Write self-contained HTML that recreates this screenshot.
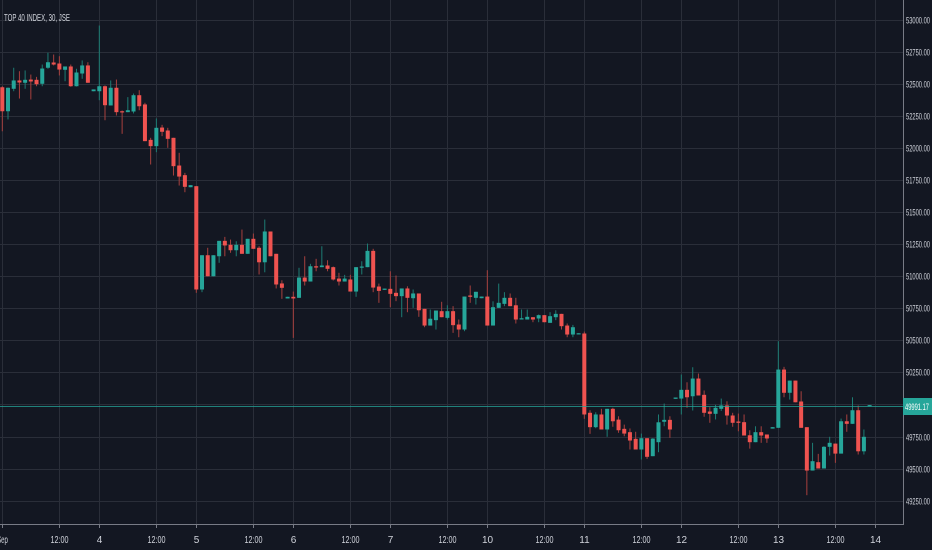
<!DOCTYPE html>
<html><head><meta charset="utf-8"><style>
html,body{margin:0;padding:0;background:#131722;}
svg{display:block;font-family:"Liberation Sans",sans-serif;}
</style></head><body>
<svg id="chart" width="932" height="550" viewBox="0 0 932 550" xmlns="http://www.w3.org/2000/svg">
<rect x="0" y="0" width="932" height="550" fill="#131722"/>
<g id="grid"></g>
<g id="candles"></g>
<line id="lastLine" x1="0" x2="903" stroke="#26a69a" stroke-opacity="0.75" stroke-width="1"/>
<line x1="903.5" y1="0" x2="903.5" y2="524" stroke="#787b86" stroke-width="1"/>
<line x1="0" y1="524.5" x2="904" y2="524.5" stroke="#787b86" stroke-width="1"/>
<g id="yaxis"></g>
<g id="xaxis"></g>
<text x="4" y="21" fill="#d1d4dc" font-size="10" textLength="66" lengthAdjust="spacingAndGlyphs">TOP 40 INDEX, 30, JSE</text>
<g id="lastLabel"></g>
</svg>
<script>
const opens=[52472,52285,52460,52525,52507,52532,52530,52499,52624,52665,52657,52608,52634,52480,52579,52642,52441,52441,52480,52330,52468,52285,52278,52283,52410,52338,52062,52013,52158,52135,52078,51862,51787,51693,51701,50896,51163,50999,51155,51275,51244,51202,51244,51174,51291,51221,51108,51348,51174,50943,50826,50839,50831,50989,50958,51077,51070,51083,51070,50981,50958,50974,50880,51067,51070,51197,50919,50893,50901,50870,50844,50904,50828,50865,50745,50615,50657,50727,50675,50727,50623,50584,50849,50831,50828,50841,50615,50753,50784,50831,50773,50662,50662,50680,50670,50696,50636,50680,50706,50615,50545,50547,50553,49935,49823,49922,49805,49966,49882,49810,49784,49732,49649,49737,49597,49706,49865,49880,50044,50046,50114,50064,50202,50075,49945,49927,49966,49992,49914,49867,49862,49760,49706,49784,49766,49812,49818,50272,50091,50186,50023,49823,49485,49550,49501,49670,49695,49617,49869,49849,49955,49635,49992];
const highs=[52480,52470,52624,52597,52603,52571,52553,52649,52741,52727,52714,52634,52649,52616,52681,52667,52455,52953,52486,52525,52532,52291,52395,52423,52449,52351,52078,52229,52179,52156,52078,51961,51805,51709,51701,51163,51221,51163,51275,51306,51285,51272,51363,51291,51332,51233,51441,51348,51174,50968,50839,50880,51065,51155,51096,51135,51233,51124,51075,51026,51010,51010,51070,51116,51254,51213,50942,50903,51038,51005,50904,50921,50896,50865,50745,50740,50732,50800,50773,50766,50662,50841,50927,50878,50841,51046,50804,50942,50875,50865,50831,50740,50740,50680,50701,50696,50719,50734,50706,50631,50620,50555,50568,49955,49939,49966,49966,49974,49908,49843,49813,49787,49773,49737,49737,49922,50007,49908,50054,50233,50173,50290,50241,50109,49979,49997,50046,50025,49935,49929,49922,49799,49830,49830,49766,49823,50493,50293,50186,50186,50103,49823,49701,49615,49675,49748,49695,49890,49922,50056,49992,49805,49995];
const lows=[52129,52221,52441,52384,52460,52377,52480,52480,52616,52642,52564,52519,52476,52478,52538,52507,52441,52371,52215,52330,52252,52109,52278,52268,52293,52052,51870,51966,52091,52000,51784,51706,51654,51693,50870,50875,50999,50999,51104,51155,51182,51155,51174,51174,51213,51013,51030,51155,50904,50823,50826,50519,50831,50927,50958,51038,51070,51038,50966,50927,50958,50880,50839,51013,51070,50875,50792,50893,50758,50805,50680,50719,50753,50683,50602,50615,50584,50680,50662,50558,50524,50571,50792,50779,50828,50615,50615,50753,50766,50766,50631,50662,50662,50641,50641,50641,50636,50657,50584,50524,50524,50547,49888,49771,49815,49805,49748,49826,49779,49752,49649,49649,49571,49576,49597,49628,49830,49740,50044,49922,49974,49953,50070,49904,49857,49883,49950,49843,49826,49791,49758,49656,49706,49701,49701,49812,49818,50056,50038,50017,49818,49293,49485,49501,49501,49602,49545,49617,49787,49849,49610,49610,49992];
const closes=[52285,52468,52525,52509,52530,52517,52496,52618,52667,52649,52610,52634,52480,52587,52642,52507,52455,52480,52332,52468,52278,52278,52293,52410,52324,52052,52013,52156,52125,52070,51857,51776,51696,51709,50896,51163,50999,51163,51275,51239,51202,51244,51174,51291,51213,51108,51348,51155,50935,50909,50839,50826,50989,50958,51077,51067,51083,51057,50974,50958,50981,50880,51070,51075,51197,50911,50885,50903,50862,50844,50904,50831,50865,50734,50615,50668,50732,50680,50727,50618,50584,50841,50839,50878,50841,50615,50758,50792,50831,50766,50662,50672,50683,50662,50696,50641,50688,50706,50610,50545,50602,50555,49922,49823,49922,49805,49966,49869,49799,49773,49719,49649,49737,49592,49734,49861,49880,49805,50054,50114,50056,50202,50070,49935,49927,49974,49992,49914,49857,49857,49758,49706,49784,49758,49735,49823,50272,50091,50186,50017,49818,49485,49558,49501,49670,49701,49617,49869,49849,49955,49635,49748,49995];
const priceTicks=[53000,52750,52500,52250,52000,51750,51500,51250,51000,50750,50500,50250,50000,49750,49500,49250];
const timeLabels=["Sep","12:00","4","12:00","5","12:00","6","12:00","7","12:00","10","12:00","11","12:00","12","12:00","13","12:00","14"];
const lastPrice=49991.17;

const NS="http://www.w3.org/2000/svg";
const X0=2.3, STEP=5.706, PRICE_HI=53000, Y_HI=19.5, PX_PER_PT=32.08/250;
function xScale(i){return X0+i*STEP;}
function yScale(p){return Y_HI+(PRICE_HI-p)*PX_PER_PT;}
function mk(tag,attrs,parent){const e=document.createElementNS(NS,tag);for(const k in attrs)e.setAttribute(k,attrs[k]);parent.appendChild(e);return e;}

const grid=document.getElementById('grid');
const yaxis=document.getElementById('yaxis');
priceTicks.forEach(p=>{
  const y=Math.round(yScale(p))+0.5;
  const g=mk('line',{x1:0,x2:903,y1:y,y2:y,stroke:'#2a2e39','stroke-width':1},grid);
  
  
  const t=mk('text',{x:906,y:y+3,fill:'#d1d4dc','font-size':9,textLength:24,lengthAdjust:'spacingAndGlyphs'},yaxis);
  
  
  t.textContent=p.toFixed(2);
});
const xaxis=document.getElementById('xaxis');
timeLabels.forEach((lab,k)=>{
  const idx=Math.floor(k/2)*17+(k%2?10:0);
  const x=Math.round(xScale(idx))+0.5;
  const g=mk('line',{x1:x,x2:x,y1:0,y2:524,stroke:'#2a2e39','stroke-width':1},grid);
  
  
  const tk=mk('line',{x1:x,x2:x,y1:524,y2:528,stroke:'#787b86'},xaxis);
  
  
  const narrow=lab.length>2?{textLength:lab.length*3.6,lengthAdjust:'spacingAndGlyphs'}:{};
  const t=mk('text',Object.assign({x:x,y:543,fill:'#d1d4dc','font-size':10,'text-anchor':'middle'},narrow),xaxis);
  
  
  t.textContent=lab;
});

const cg=document.getElementById('candles');
opens.forEach((o,i)=>{
  const c=closes[i],h=highs[i],l=lows[i];
  const up=c>=o;
  const col=up?'#26a69a':'#ef5350';
  const wcol=up?'#1d7d74':'#a8403e';
  const x=xScale(i);
  const w=mk('line',{x1:x,x2:x,y1:yScale(h),y2:yScale(l),stroke:wcol,'stroke-width':1},cg);
  
  
  const yt=yScale(Math.max(o,c)), yb=yScale(Math.min(o,c));
  const b=mk('rect',{x:x-2,y:yt,width:4,height:Math.max(1.2,yb-yt),fill:col},cg);
  
  
});

const ly=Math.round(yScale(lastPrice))+0.5;
const ll=document.getElementById('lastLine');
ll.setAttribute('y1',ly);ll.setAttribute('y2',ly);
const lab=document.getElementById('lastLabel');
const r=mk('rect',{x:903,y:ly-8.5,width:29,height:17,fill:'#26a69a'},lab);


const lt=mk('text',{x:905,y:ly+3.5,fill:'#ffffff','font-size':9,textLength:24,lengthAdjust:'spacingAndGlyphs'},lab);


lt.textContent=lastPrice.toFixed(2);
</script>
</body></html>
